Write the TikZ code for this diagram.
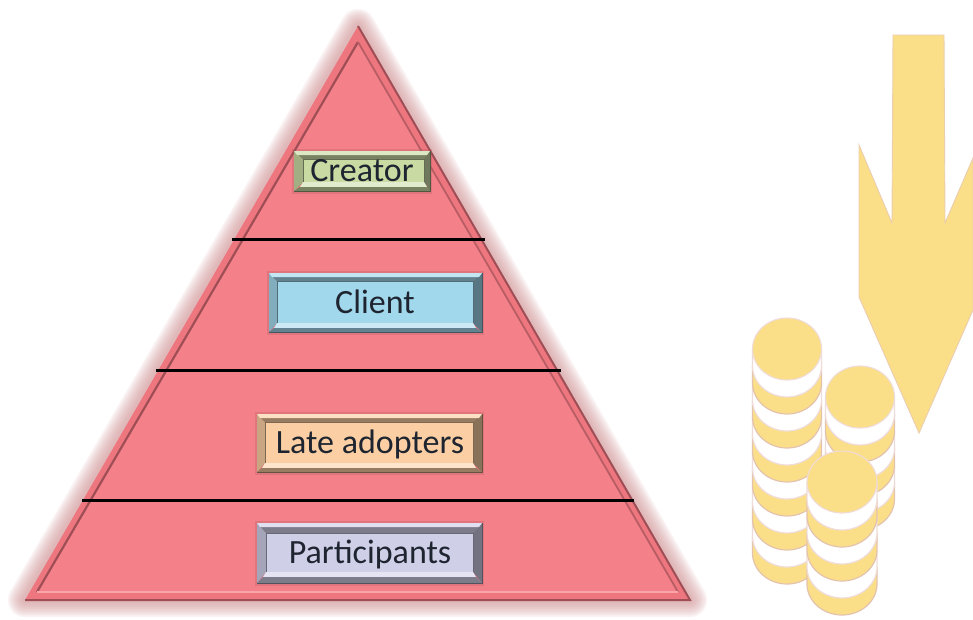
\documentclass[tikz,border=0pt]{standalone}
\usepackage{fontspec}
\setmainfont{Carlito}
\definecolor{pyr}{HTML}{F4818A}
\definecolor{pyrrim}{HTML}{EE777F}
\definecolor{pyrlt}{HTML}{F9A5AA}
\definecolor{pyrdk}{HTML}{A04E56}
\definecolor{glowc}{HTML}{D49A9C}
\definecolor{gold}{HTML}{FBDF88}
\definecolor{coinedge}{HTML}{E4C3AE}
\definecolor{coinside}{HTML}{EFDCD8}
\definecolor{arrowedge}{HTML}{EBCDB0}
\definecolor{ink}{HTML}{1E2530}
\definecolor{boxgreen}{HTML}{C9DBA3}
\definecolor{boxblue}{HTML}{A2D8EC}
\definecolor{boxorange}{HTML}{FBCFA3}
\definecolor{boxviolet}{HTML}{CFCFE8}
\tikzset{
  glowline/.style={draw=glowc,line join=round,opacity=0.13,line width=#1},
  tierline/.style={draw=black,line width=2.1pt},
  boxtext/.style={font=\fontsize{34}{36}\selectfont,text=ink,inner sep=0pt,anchor=center},
  goldarrow/.style={fill=gold,draw=arrowedge,line width=0.9pt,line join=miter},
}
% name, outer coords, inner coords, face colour, text, text position
\newcommand{\bevelbox}[6]{%
  \path #2;
  \path #3;
  \fill[pyrdk,opacity=.22] ([shift={(-2,-2)}]oa) rectangle ([shift={(2,3)}]ob);
  \fill[#4!80!black] (oa) -- (ia) -- (ia |- ib) -- (oa |- ob) -- cycle;
  \fill[#4!55!black] (ob) -- (ob |- oa) -- (ib |- ia) -- (ib) -- cycle;
  \fill[#4!60!black] (oa) -- (ob |- oa) -- (ib |- ia) -- (ia) -- cycle;
  \fill[#4!65!white] (oa) -- (ob |- oa) -- ([shift={(-3,4)}]ob |- oa) -- ([shift={(3,4)}]oa) -- cycle;
  \fill[#4!55!white] (ia |- ib) -- (ib) -- ([shift={(3,5)}]ib) -- ([shift={(-3,5)}]ia |- ib) -- cycle;
  \fill[#4!60!black] ([shift={(-3,5)}]ia |- ib) -- ([shift={(3,5)}]ib) -- (ob) -- (oa |- ob) -- cycle;
  \fill[#4] (ia) rectangle (ib);
  \draw[#4!50!black,line width=1pt] (ia |- ib) -- (ia) -- (ib |- ia) -- (ib);
  \draw[#4!40!black,line width=1pt] (oa |- ob) -- (ob) -- (ob |- oa);
  \node[boxtext] (#1) at (#6) {#5};
}
% one coin band: cx, half-width, y of lowest point, fill, edge
\newcommand{\coinband}[5]{%
  \pgfmathsetmacro{\ya}{#3-31}
  \pgfmathsetmacro{\yb}{#3-31+17}
  \pgfmathsetmacro{\yc}{#3-31-17}
  \pgfmathsetmacro{\xl}{#1-#2}
  \pgfmathsetmacro{\xr}{#1+#2}
  \pgfmathsetmacro{\xm}{.5523*#2}
  \filldraw[fill=#4,draw=#5,line width=1.2pt] (\xl,\yc) -- (\xl,\ya)
     .. controls (\xl,\yb) and (#1-\xm,#3) .. (#1,#3)
     .. controls (#1+\xm,#3) and (\xr,\yb) .. (\xr,\ya) -- (\xr,\yc);
}
% cx, half-width, lowest y of the top disc, number of bands
\newcommand{\coinstack}[4]{%
  \foreach \k in {#4,...,1}{
    \pgfmathsetmacro{\yy}{#3+17*\k}
    \pgfmathtruncatemacro{\oddk}{mod(\k,2)}
    \ifnum\oddk=1
      \coinband{#1}{#2}{\yy}{white}{coinside}
    \else
      \coinband{#1}{#2}{\yy}{gold}{coinedge}
    \fi
  }
  \fill[gold,draw=coinside,line width=1.1pt] (#1,#3-31) ellipse[x radius=#2,y radius=31];
}
\begin{document}
\begin{tikzpicture}[x=1pt,y=-1pt]
\useasboundingbox (0,0) rectangle (973,619);
\fill[white] (0,0) rectangle (973,619);
% pyramid
\coordinate (apex) at (358,26);
\coordinate (bl) at (25,600);
\coordinate (br) at (690,600);
\coordinate (iapex) at (358,42);
\coordinate (ibl) at (37,592);
\coordinate (ibr) at (678,592);
\foreach \w in {34,30,26,22,18,14,10,6}{
  \draw[glowline=\w pt] (apex) -- (bl) -- (br) -- cycle;
}
\fill[pyrrim] (apex) -- (bl) -- (br) -- cycle;
\fill[pyr] (iapex) -- (ibl) -- (ibr) -- cycle;
\draw[pyrdk,line width=2.2pt,line join=miter] (ibl) -- (iapex);
\draw[pyrdk!70!pyr,line width=1.8pt,line join=miter] (iapex) -- (ibr);
\draw[pyrlt,line width=2pt] (ibl) -- (ibr);
\draw[pyrdk,line width=2pt,line join=miter] (apex) -- (br) -- (bl);
% tier lines
\coordinate (t1a) at (232,239.5); \coordinate (t1b) at (485,239.5);
\coordinate (t2a) at (156,370.5); \coordinate (t2b) at (561,370.5);
\coordinate (t3a) at (82,500.5);  \coordinate (t3b) at (634,500.5);
\draw[tierline] (t1a) -- (t1b);
\draw[tierline] (t2a) -- (t2b);
\draw[tierline] (t3a) -- (t3b);
% boxes
\bevelbox{creator}{coordinate (oa) at (294,151) coordinate (ob) at (430,191)}{coordinate (ia) at (303,159) coordinate (ib) at (424,182)}{boxgreen}{Creator}{362,171}
\bevelbox{client}{coordinate (oa) at (269,273) coordinate (ob) at (482,332)}{coordinate (ia) at (277,281) coordinate (ib) at (473,323)}{boxblue}{Client}{375,302}
\bevelbox{late}{coordinate (oa) at (257,414) coordinate (ob) at (482,472)}{coordinate (ia) at (265,422) coordinate (ib) at (473,463)}{boxorange}{Late adopters}{370,444}
\bevelbox{part}{coordinate (oa) at (257,523) coordinate (ob) at (482,583)}{coordinate (ia) at (266,533) coordinate (ib) at (473,572)}{boxviolet}{Participants}{370,554}
% arrow
\draw[goldarrow] (893,35) -- (944,35) -- (945,223) -- (973,158) -- (973,310) -- (919,433) -- (859,297) -- (859,145) -- (892,223) -- cycle;
% coins
\coinstack{860}{34.5}{428}{6}
\coinstack{787}{34.5}{380}{12}
\coinstack{842}{35}{513}{6}
\end{tikzpicture}
\end{document}
